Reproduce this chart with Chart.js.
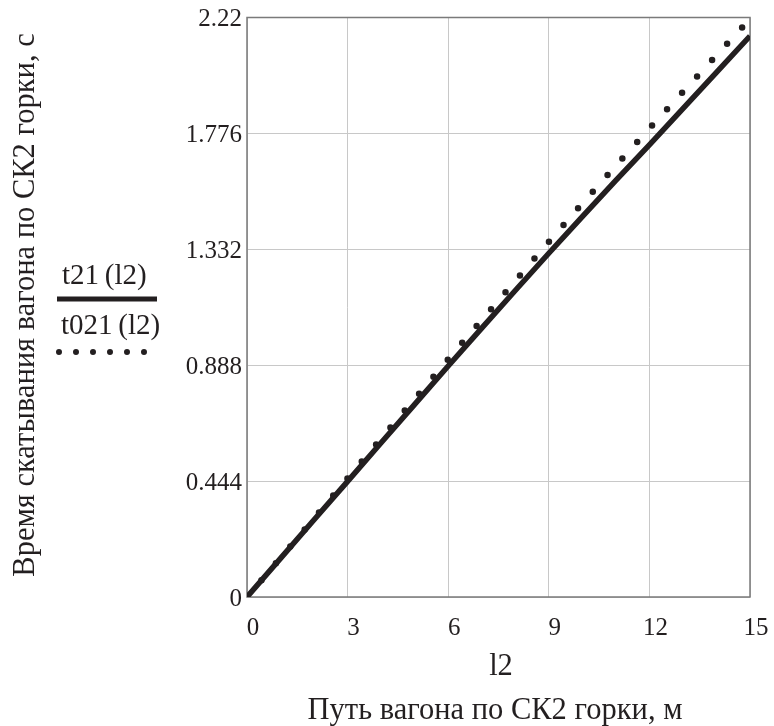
<!DOCTYPE html>
<html>
<head>
<meta charset="utf-8">
<script src="https://cdn.jsdelivr.net/npm/chart.js@4/dist/chart.umd.min.js"></script>
<style>
  html, body { margin: 0; padding: 0; background: #fff; }
  #wrap { width: 774px; height: 726px; }
</style>
</head>
<body>
<div id="wrap"><canvas id="chart" width="774" height="726"></canvas></div>
<script>
// path along the hump (l2, m)
const lengths = [0, 1, 2, 3, 4, 5, 6, 7, 8, 9, 10, 11, 12, 13, 14, 15];
// t21(l2), s  - solid trace
const t21 = [0, 0.148, 0.296, 0.443, 0.591, 0.738, 0.885, 1.030, 1.174, 1.317, 1.457, 1.596, 1.732, 1.871, 2.010, 2.149];
// t021(l2), s - dotted trace
const t021 = [0, 0.150, 0.301, 0.455, 0.607, 0.759, 0.911, 1.061, 1.211, 1.360, 1.508, 1.652, 1.795, 1.935, 2.075, 2.215];

const xTicks = [0, 3, 6, 9, 12, 15];
const yTicks = [0, 0.444, 0.888, 1.332, 1.776, 2.22];

const serif = '"Liberation Serif", "DejaVu Serif", serif';
const ink = '#231f20';

const decor = {
  id: 'decor',
  beforeDatasetsDraw(chart) {
    const { ctx, chartArea: a } = chart;
    ctx.save();
    ctx.strokeStyle = '#7a7a7a';
    ctx.lineWidth = 1.5;
    ctx.strokeRect(a.left, a.top, a.right - a.left, a.bottom - a.top);
    ctx.restore();
  },
  afterDraw(chart) {
    const ctx = chart.ctx;
    ctx.save();
    ctx.fillStyle = ink;
    ctx.textAlign = 'center';
    ctx.textBaseline = 'middle';
    ctx.font = '30.5px ' + serif;

    // axis titles
    ctx.fillText('l2', 501, 667);
    ctx.fillText('Путь вагона по СК2 горки, м', 495, 711);
    ctx.save();
    ctx.translate(26, 305);
    ctx.rotate(-Math.PI / 2);
    ctx.fillText('Время скатывания вагона по СК2 горки, с', 0, 0);
    ctx.restore();

    // legend
    ctx.font = '29px ' + serif;
    ctx.textAlign = 'left';
    ctx.fillText('t21\u2009(l2)', 62, 276);
    ctx.fillText('t021\u2009(l2)', 61, 326);
    ctx.strokeStyle = ink;
    ctx.lineWidth = 5;
    ctx.beginPath();
    ctx.moveTo(57, 299);
    ctx.lineTo(157, 299);
    ctx.stroke();
    ctx.lineCap = 'round';
    ctx.lineWidth = 6;
    ctx.setLineDash([0, 17]);
    ctx.beginPath();
    ctx.moveTo(59, 352);
    ctx.lineTo(145, 352);
    ctx.stroke();
    ctx.restore();
  }
};

new Chart(document.getElementById('chart'), {
  type: 'line',
  data: {
    datasets: [
      {
        label: 't21(l2)',
        data: lengths.map((l, i) => ({ x: l, y: t21[i] })),
        borderColor: ink,
        borderWidth: 5.5,
        pointRadius: 0,
        tension: 0
      },
      {
        label: 't021(l2)',
        data: lengths.map((l, i) => ({ x: l, y: t021[i] })),
        borderColor: ink,
        borderWidth: 6.5,
        borderDash: [0, 22.2],
        borderCapStyle: 'round',
        pointRadius: 0,
        tension: 0
      }
    ]
  },
  options: {
    responsive: false,
    animation: false,
    layout: { padding: { top: 17.5, right: 24, left: 0, bottom: 0 } },
    plugins: { legend: { display: false }, tooltip: { enabled: false } },
    scales: {
      x: {
        type: 'linear',
        min: 0,
        max: 15,
        afterBuildTicks: s => { s.ticks = xTicks.map(v => ({ value: v })); },
        afterFit: s => { s.height = 129; s.paddingLeft = 0; s.paddingRight = 0; },
        grid: { color: '#c8c8c8', lineWidth: 1, drawTicks: false },
        border: { display: false },
        ticks: {
          color: ink,
          font: { family: serif, size: 25 },
          padding: 16,
          labelOffset: 6,
          maxRotation: 0,
          callback: v => String(v)
        }
      },
      y: {
        type: 'linear',
        min: 0,
        max: 2.22,
        afterBuildTicks: s => { s.ticks = yTicks.map(v => ({ value: v })); },
        afterFit: s => { s.width = 247; s.paddingTop = 0; s.paddingBottom = 0; },
        grid: { color: '#c8c8c8', lineWidth: 1, drawTicks: false },
        border: { display: false },
        ticks: {
          color: ink,
          font: { family: serif, size: 25 },
          padding: 5,
          labelOffset: 2,
          callback: v => String(v)
        }
      }
    }
  },
  plugins: [decor]
});
</script>
</body>
</html>
